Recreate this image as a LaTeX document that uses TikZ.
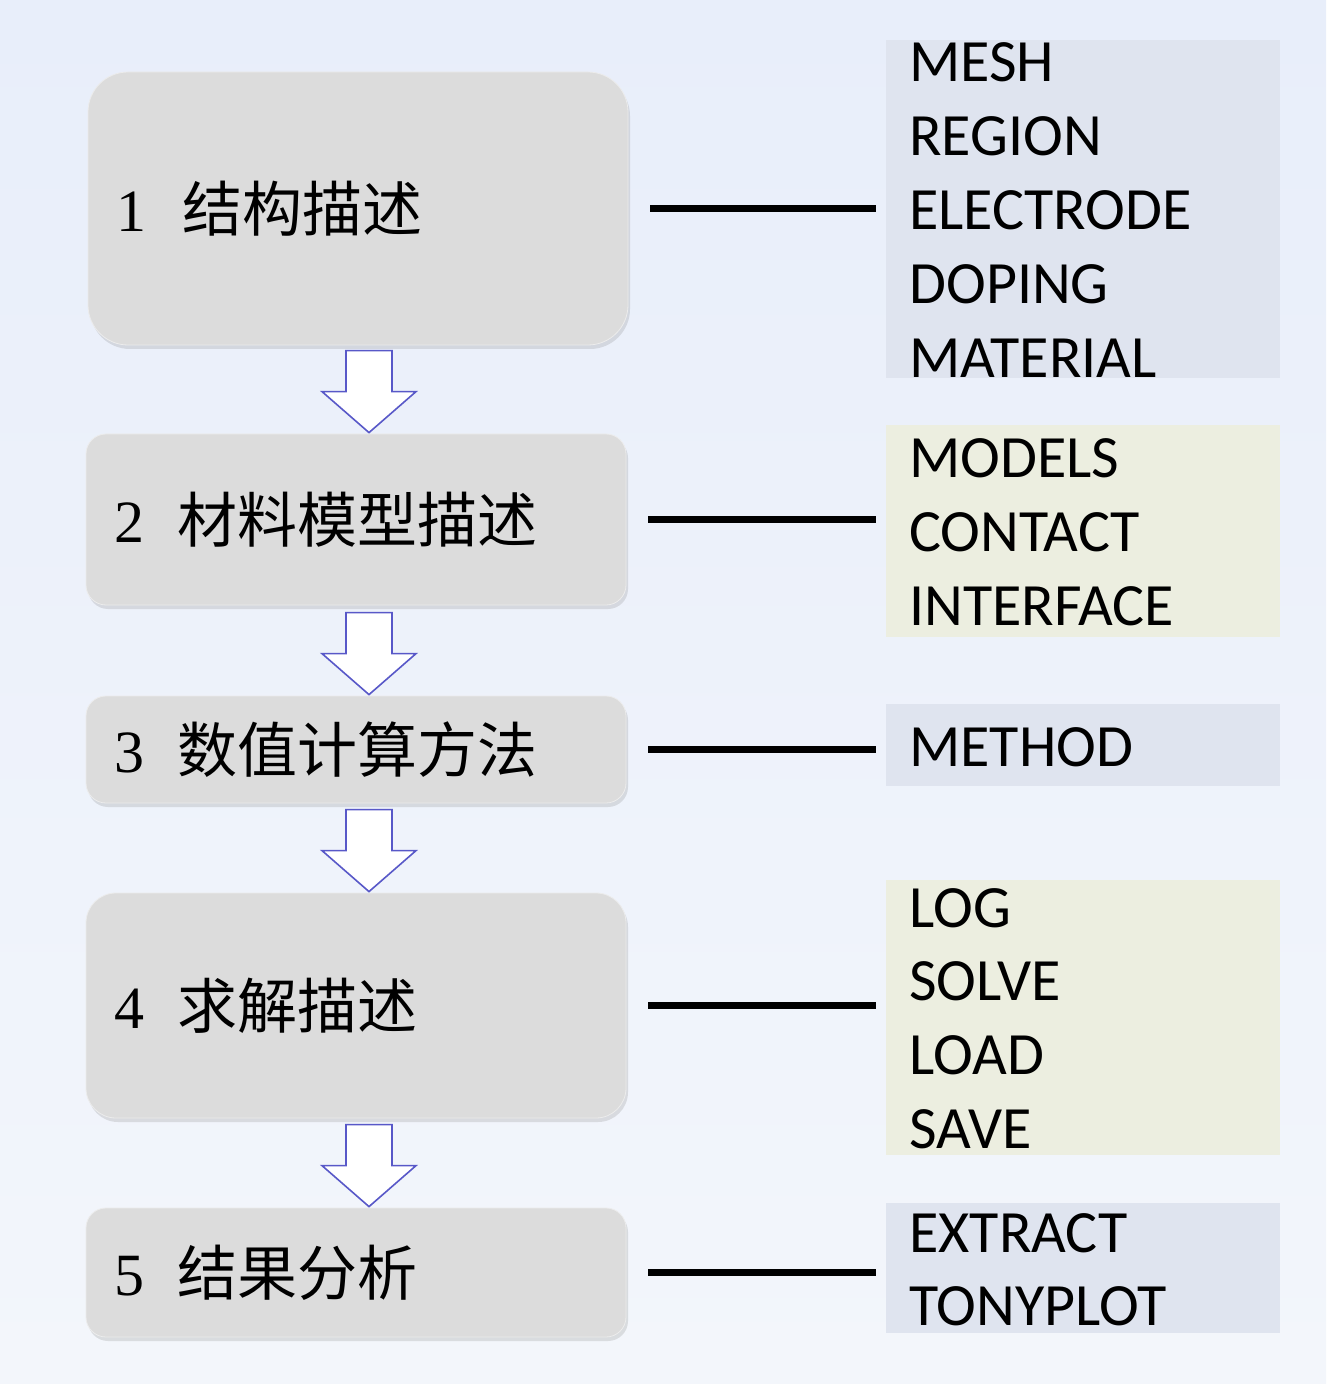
\documentclass[tikz,border=0pt]{standalone}
\usepackage{fontspec}
\setmainfont{Liberation Serif}
\setsansfont{Carlito}
\newfontfamily\cjk{Noto Sans CJK SC}
\usetikzlibrary{calc,shadows}

\definecolor{bgtop}{RGB}{232,238,250}
\definecolor{bgbot}{RGB}{243,246,251}
\definecolor{stepgray}{RGB}{220,220,220}
\definecolor{listblue}{RGB}{223,228,239}
\definecolor{listcream}{RGB}{236,238,224}
\definecolor{arrowblue}{RGB}{88,88,200}

\tikzset{
	stepbox/.style={fill=stepgray,draw=white!85!gray,rounded corners=10pt,minimum width=270pt,
		text width=242pt,inner xsep=14pt,align=left,font=\fontsize{30pt}{36pt}\selectfont,
		drop shadow={opacity=0.22,shadow xshift=1pt,shadow yshift=-2pt}},
	listbox/.style={fill=#1,minimum width=197pt,inner sep=0pt,anchor=north west},
	listtext/.style={anchor=base west,inner sep=0pt,text width=180pt,align=left,
		font=\sffamily\fontsize{30pt}{36.9pt}\selectfont},
	link/.style={line width=3.2pt,shorten <=11pt,shorten >=5pt},
	flowarrow/.style={fill=white,draw=arrowblue,line width=0.8pt,line join=miter}
}

\begin{document}
\begin{tikzpicture}[x=0.5pt,y=-0.5pt]
	\useasboundingbox (0,0) rectangle (1326,1384);
	\shade[top color=bgtop,bottom color=bgbot] (0,0) rectangle (1326,1384);

	% steps
	\node[stepbox,rounded corners=20pt,minimum height=136.5pt] (s1) at (358,208.5) {1\hspace{0.6em}{\cjk 结构描述}};
	\node[stepbox,minimum height=85.5pt] (s2) at (356,519.5) {2\hspace{0.55em}{\cjk 材料模型描述}};
	\node[stepbox,minimum height=53.5pt] (s3) at (356,749.5) {3\hspace{0.55em}{\cjk 数值计算方法}};
	\node[stepbox,rounded corners=15pt,minimum height=112.5pt] (s4) at (356,1005.5) {4\hspace{0.55em}{\cjk 求解描述}};
	\node[stepbox,minimum height=64.5pt] (s5) at (356,1272.5) {5\hspace{0.55em}{\cjk 结果分析}};

	% commands
	\node[listbox=listblue,minimum height=169pt] (r1) at (886,40) {};
	\node[listbox=listcream,minimum height=106pt] (r2) at (886,425) {};
	\node[listbox=listblue,minimum height=41pt] (r3) at (886,704) {};
	\node[listbox=listcream,minimum height=137.5pt] (r4) at (886,880) {};
	\node[listbox=listblue,minimum height=65pt] (r5) at (886,1203) {};

	\node[listtext] (l1) at (909,82) {MESH\\REGION\\ELECTRODE\\DOPING\\MATERIAL};
	\node[listtext] (l2) at (909,478) {MODELS\\CONTACT\\INTERFACE};
	\node[listtext] (l3) at (909,766) {METHOD};
	\node[listtext] (l4) at (909,927) {LOG\\SOLVE\\LOAD\\SAVE};
	\node[listtext] (l5) at (909,1252) {EXTRACT\\TONYPLOT};

	\foreach \n in {1,...,5}{
		\draw[link] (s\n.east) -- (r\n.west |- s\n.east);}

	\foreach \a/\b in {s1/s2,s2/s3,s3/s4,s4/s5}{
		\draw[flowarrow] (\b.north) ++(13,-1) -- ++(-47,-41) -- ++(24,0) -- ++(0,-41)
			-- ++(46,0) -- ++(0,41) -- ++(24,0) -- cycle;}
\end{tikzpicture}
\end{document}
